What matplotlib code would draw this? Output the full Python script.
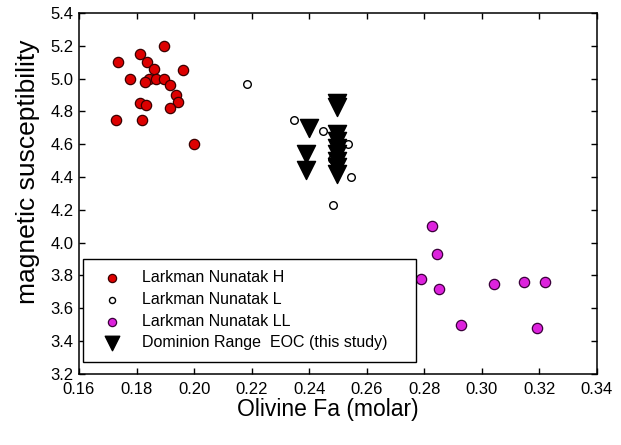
import matplotlib
matplotlib.use('Agg')
import matplotlib.pyplot as plt

plt.rcParams['font.family'] = ['Liberation Sans', 'DejaVu Sans']

# Larkman Nunatak H chondrites
h_fa = [0.1897, 0.1811, 0.1736, 0.1836, 0.1862, 0.1960, 0.1778, 0.1845, 0.1868,
        0.1895, 0.1830, 0.1917, 0.1936, 0.1944, 0.1811, 0.1832, 0.1917, 0.1728,
        0.1818, 0.1998]
h_chi = [5.20, 5.15, 5.10, 5.10, 5.06, 5.05, 5.00, 5.00, 5.00,
         5.00, 4.98, 4.96, 4.90, 4.86, 4.85, 4.84, 4.82, 4.75,
         4.75, 4.60]

# Larkman Nunatak L chondrites
l_fa = [0.2183, 0.2346, 0.2447, 0.2534, 0.2480, 0.2547, 0.2483]
l_chi = [4.97, 4.75, 4.68, 4.60, 4.51, 4.40, 4.23]

# Larkman Nunatak LL chondrites
ll_fa = [0.2827, 0.2844, 0.2788, 0.2850, 0.3042, 0.3146, 0.3221, 0.2928, 0.3193]
ll_chi = [4.10, 3.93, 3.78, 3.72, 3.75, 3.76, 3.76, 3.50, 3.48]

# Dominion Range EOC (this study)
eoc_fa = [0.2495, 0.2497, 0.2398, 0.2390, 0.2390, 0.2497, 0.2497, 0.2497,
          0.2497, 0.2497, 0.2497, 0.2497]
eoc_chi = [4.85, 4.83, 4.70, 4.54, 4.44, 4.66, 4.62, 4.58, 4.54, 4.50, 4.46, 4.42]

labels = ['Larkman Nunatak H', 'Larkman Nunatak L', 'Larkman Nunatak LL',
          'Dominion Range  EOC (this study)']

fig = plt.figure(figsize=(6.21, 4.45), dpi=100)
ax = fig.add_axes([0.1272, 0.16, 0.834, 0.8107])

ax.scatter(h_fa, h_chi, s=55, c='#dd0000', edgecolors='#3a0000', linewidths=0.9,
           zorder=3, label=labels[0])
ax.scatter(l_fa, l_chi, s=30, facecolors='white', edgecolors='black', linewidths=1.0,
           zorder=3, label=labels[1])
ax.scatter(ll_fa, ll_chi, s=55, c='#dd22dd', edgecolors='#3a003a', linewidths=0.9,
           zorder=3, label=labels[2])
ax.scatter(eoc_fa, eoc_chi, s=170, marker='v', c='black', edgecolors='black',
           zorder=4, label=labels[3])

ax.set_xlim(0.16, 0.34)
ax.set_ylim(3.2, 5.4)
ax.set_xticks([0.16 + 0.02 * i for i in range(10)])
ax.set_yticks([3.2 + 0.2 * i for i in range(12)])
ax.xaxis.set_major_formatter(matplotlib.ticker.FormatStrFormatter('%.2f'))
ax.yaxis.set_major_formatter(matplotlib.ticker.FormatStrFormatter('%.1f'))
ax.tick_params(direction='in', top=True, right=True, length=4, width=1,
               labelsize=12, pad=4)
ax.tick_params(axis='x', pad=6)
for sp in ax.spines.values():
    sp.set_linewidth(1.1)

ax.set_xlabel('Olivine Fa (molar)', fontsize=16.5)
ax.xaxis.set_label_coords(0.481, -0.068)
ax.set_ylabel('magnetic susceptibility', fontsize=19)
ax.yaxis.set_label_coords(-0.076, 0.56)

leg = ax.legend(loc='upper left', bbox_to_anchor=(0.0077, 0.3186, 0.643, 0.0),
                mode='expand', fontsize=11.5, frameon=True, fancybox=False,
                edgecolor='black', framealpha=1, borderpad=0.72,
                labelspacing=0.42, handletextpad=0.8, borderaxespad=0,
                scatterpoints=1, markerscale=0.8, handlelength=2.2)
leg.get_frame().set_linewidth(1.0)

fig.savefig('out.png', dpi=100)
